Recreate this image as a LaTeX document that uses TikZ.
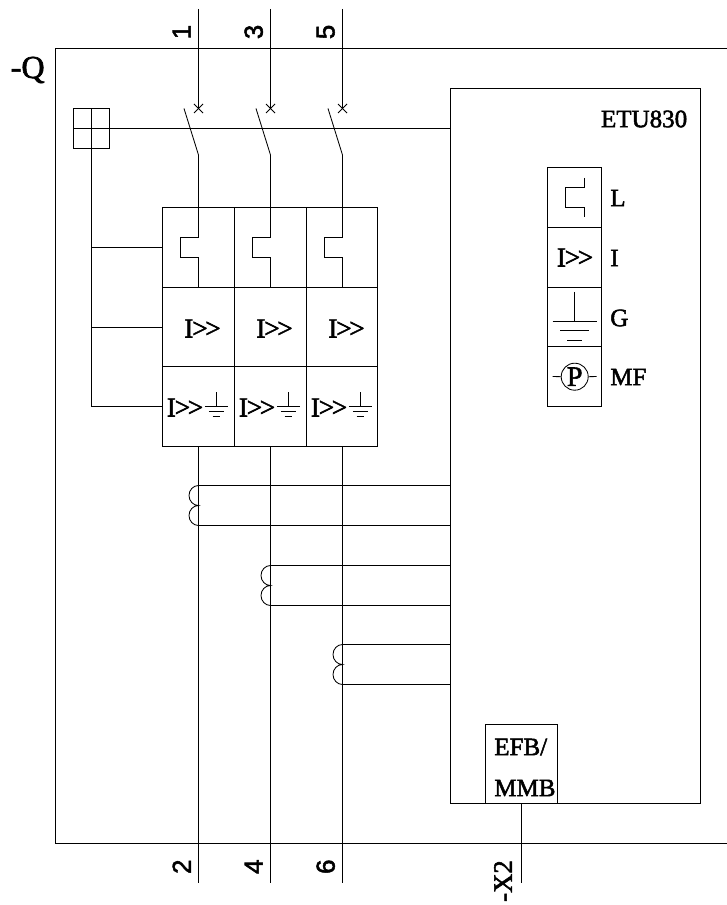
\documentclass[tikz,border=0pt]{standalone}
\usepackage{fontspec}
\setmainfont[FakeBold=2]{Liberation Serif}
\newfontfamily\numfont[FakeBold=2]{Liberation Sans}
\usepackage{tikz}
\tikzset{
	wire/.style={line width=0.6pt},
	lbl/.style={inner sep=0pt,font=\fontsize{17.8}{20}\selectfont},
	pin/.style={inner sep=0pt,rotate=90,font=\numfont\fontsize{18.5}{20}\selectfont},
}
\def\Ioo{\fontsize{19.5}{20}\selectfont I\kern-0.8pt>\kern-1.8pt>}
\def\earth(#1,#2)(#3:#4:#5){
	\draw[wire] (#1, #2) -- (#1, #2+#3);
	\draw[wire] (#1-#4, #2+#3) -- (#1+#4, #2+#3);
	\draw[wire] (#1-#4*0.65, #2+#3+#5) -- (#1+#4*0.65, #2+#3+#5);
	\draw[wire] (#1-#4*0.33, #2+#3+2*#5) -- (#1+#4*0.33, #2+#3+2*#5);
}

\begin{document}
\begin{tikzpicture}[x=0.025cm,y=-0.025cm]
			%%%%% START %%%%%
			\useasboundingbox (0, 0) rectangle (727, 905);
			
			\draw[wire] (727, 48.5) -- (55.5, 48.5) -- (55.5, 843.5) -- (727, 843.5);
			\node[lbl,font=\fontsize{22.8}{24}\selectfont,anchor=base west] (qname) at (10.5, 78) {-Q};
			
			\draw[wire] (73.5, 108.5) rectangle (109.5, 148.5);
			\draw[wire] (73.5, 128.5) -- (450.5, 128.5);
			\draw[wire] (91.5, 108.5) -- (91.5, 406.5);
			
			\draw[wire] (162.5, 207.5) rectangle (377.5, 446.5);
			\draw[wire] (234.5, 207.5) -- (234.5, 446.5);
			\draw[wire] (306.5, 207.5) -- (306.5, 446.5);
			\draw[wire] (162.5, 287.5) -- (377.5, 287.5);
			\draw[wire] (162.5, 366.5) -- (377.5, 366.5);
			\draw[wire] (91.5, 247.5) -- (162.5, 247.5);
			\draw[wire] (91.5, 327.5) -- (162.5, 327.5);
			\draw[wire] (91.5, 406.5) -- (162.5, 406.5);
			
			\foreach \pole/\top/\bot/\ctop in {198.5/1/2/485.5, 270.5/3/4/565.5, 342.5/5/6/644.5}{
				\draw[wire] (\pole, 9) -- (\pole, 108.5);
				\draw[wire] (\pole-4.5, 104) -- (\pole+4.5, 113);
				\draw[wire] (\pole-4.5, 113) -- (\pole+4.5, 104);
				\draw[wire] (\pole-14.5, 108.5) -- (\pole, 155) -- (\pole, 237.5) -- (\pole-18, 237.5) -- (\pole-18, 257.5) -- (\pole, 257.5) -- (\pole, 287.5);
				\draw[wire] (\pole, 446.5) -- (\pole, 882.5);
				\draw[wire] (450.5, \ctop) -- (\pole, \ctop) arc (90:270:9.5 and -10) arc (90:270:9.5 and -10) -- (450.5, \ctop+40);
				\node[pin] (top\top) at (\pole-16.8, 32) {\top};
				\node[pin] (bot\bot) at (\pole-16.8, 866.7) {\bot};
				\node[lbl] (imid\top) at (\pole+4, 328.5) {\Ioo};
				\node[lbl] (ilow\top) at (\pole-13.5, 407.5) {\Ioo};
				\earth(\pole+17.8,392)(14.5:11.4:4.9)
			}
			
			\draw[wire] (450.5, 88.5) rectangle (700.5, 803.5);
			\node[lbl,anchor=east] (etu) at (687.5, 119) {ETU830};
			
			\draw[wire] (547.5, 167.5) rectangle (601.5, 406.5);
			\draw[wire] (547.5, 227.5) -- (601.5, 227.5);
			\draw[wire] (547.5, 287.5) -- (601.5, 287.5);
			\draw[wire] (547.5, 346.5) -- (601.5, 346.5);
			\draw[wire] (584, 178) -- (584, 187.5) -- (565.5, 187.5) -- (565.5, 207.5) -- (584, 207.5) -- (584, 217.5);
			\node[lbl] (ietu) at (575, 257.5) {\Ioo};
			\earth(574.5,292)(29:22:9.5)
			\node[draw,wire,circle,inner sep=0pt,font=\fontsize{20}{20}\selectfont,minimum size=0.675cm] (pump) at (574.7, 376.7) {P};
			\draw[wire] (552.7, 376.5) -- (pump.west);
			\draw[wire] (pump.east) -- (596.7, 376.5);
			
			\node[lbl,anchor=west] (lname) at (610, 198) {L};
			\node[lbl,anchor=west] (iname) at (610, 258) {I};
			\node[lbl,anchor=west] (gname) at (610, 318) {G};
			\node[lbl,anchor=west] (mfname) at (610, 377) {MF};
			
			\draw[wire] (485.5, 724.5) rectangle (557.5, 803.5);
			\node[lbl,anchor=west] (efb) at (494, 747) {EFB/};
			\node[lbl,anchor=west] (mmb) at (494, 788) {MMB};
			\draw[wire] (521.5, 803.5) -- (521.5, 882.5);
			\node[lbl,rotate=90,font=\fontsize{19}{20}\selectfont] (xname) at (503, 881) {-X2};
			
			%%%%% END %%%%%
		\end{tikzpicture}
\end{document}
